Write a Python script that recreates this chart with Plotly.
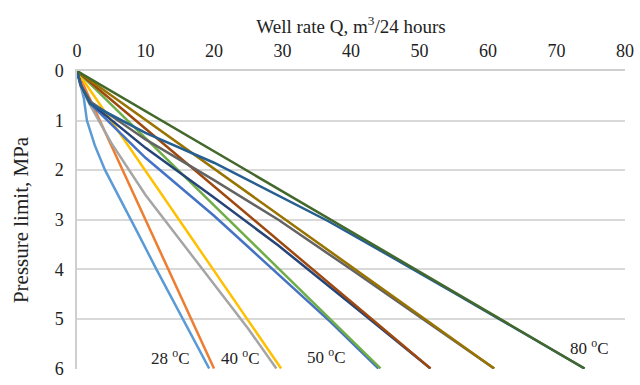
import plotly.graph_objects as go

# Well rate Q (m3/24 h) and pressure limit P (MPa) for each series
series_names = ["28 C a", "28 C b", "40 C a", "40 C b", "50 C a", "50 C b",
                "60 C a", "60 C b", "70 C a", "70 C b", "80 C a", "80 C b"]
colors = ["#5B9BD5", "#ED7D31", "#A5A5A5", "#FFC000", "#4472C4", "#70AD47",
          "#264478", "#9E480E", "#636363", "#997300", "#255E91", "#43682B"]

q_28a = [0, 0.5, 1.0, 1.45, 2.6, 4.1, 6.4, 9.0, 11.6, 15.5, 19.3]
p_28a = [0, 0.25, 0.55, 1.0, 1.5, 2.0, 2.6, 3.3, 4.0, 5.0, 6.0]
q_28b = [0, 20.0]
p_28b = [0, 6.0]

q_40a = [0, 0.5, 1.8, 5.0, 10.0, 15.0, 20.0, 25.0, 29.1]
p_40a = [0, 0.3, 0.66, 1.45, 2.5, 3.4, 4.3, 5.2, 6.0]
q_40b = [0, 29.8]
p_40b = [0, 6.0]

q_50a = [0, 0.6, 2.1, 10.0, 20.0, 30.0, 37.0, 44.0]
p_50a = [0, 0.3, 0.68, 1.75, 2.92, 4.17, 5.06, 6.0]
q_50b = [0, 44.3]
p_50b = [0, 6.0]

q_60a = [0, 0.6, 2.0, 10.0, 20.0, 29.4, 40.0, 51.6]
p_60a = [0, 0.3, 0.65, 1.55, 2.55, 3.52, 4.7, 6.0]
q_60b = [0, 51.6]
p_60b = [0, 6.0]

q_70a = [0, 0.6, 2.0, 10.0, 20.0, 29.4, 40.0, 50.0, 60.9]
p_70a = [0, 0.3, 0.62, 1.38, 2.2, 3.0, 4.0, 4.95, 6.0]
q_70b = [0, 60.9]
p_70b = [0, 6.0]

q_80a = [0, 0.6, 1.9, 10.0, 20.0, 29.4, 36.7, 45.0, 55.0, 74.1]
p_80a = [0, 0.3, 0.66, 1.25, 1.85, 2.51, 3.03, 3.68, 4.47, 6.0]
q_80b = [0, 74.1]
p_80b = [0, 6.0]

q_all = [q_28a, q_28b, q_40a, q_40b, q_50a, q_50b, q_60a, q_60b, q_70a, q_70b, q_80a, q_80b]
p_all = [p_28a, p_28b, p_40a, p_40b, p_50a, p_50b, p_60a, p_60b, p_70a, p_70b, p_80a, p_80b]

x_ticks = [0, 10, 20, 30, 40, 50, 60, 70, 80]
y_ticks = [0, 1, 2, 3, 4, 5, 6]

label_texts = ["28 <sup>o</sup>C", "40 <sup>o</sup>C", "50 <sup>o</sup>C", "80 <sup>o</sup>C"]
label_q = [13.6, 23.9, 36.4, 74.8]
label_p = [5.76, 5.76, 5.74, 5.57]

FONT = "Liberation Serif"

fig = go.Figure()
for name, col, q, p in zip(series_names, colors, q_all, p_all):
    fig.add_trace(go.Scatter(x=q, y=p, mode="lines", name=name,
                             line=dict(color=col, width=2.5), showlegend=False))

for t, qx, py in zip(label_texts, label_q, label_p):
    fig.add_annotation(x=qx, y=py, text=t, showarrow=False,
                       font=dict(family=FONT, size=17, color="#222"))

fig.update_layout(
    width=640, height=385,
    margin=dict(l=77, r=11, t=71, b=6),
    paper_bgcolor="white", plot_bgcolor="white",
    font=dict(family=FONT, size=17, color="#222"),
)
fig.update_xaxes(
    side="top", range=[0, 80], tickvals=x_ticks, showgrid=False,
    zeroline=False, showline=True, linecolor="#cfcfcf", linewidth=1.5,
    ticks="", ticklabelstandoff=5,
    title=dict(text="Well rate Q, m<sup>3</sup>/24 hours",
               font=dict(family=FONT, size=19, color="#222"), standoff=2),
    tickfont=dict(family=FONT, size=18, color="#222"),
)
fig.update_yaxes(
    range=[6.01, 0], tickvals=y_ticks, showgrid=True, gridcolor="#d9d9d9", gridwidth=1.5,
    zeroline=False, showline=True, linecolor="#cfcfcf", linewidth=1.5,
    ticks="", ticklabelstandoff=8, ticklabeloverflow="allow",
    title=dict(text="Pressure limit, MPa", font=dict(family=FONT, size=21, color="#222"),
               standoff=20),
    tickfont=dict(family=FONT, size=18, color="#222"),
)
fig.write_html("out.html")
